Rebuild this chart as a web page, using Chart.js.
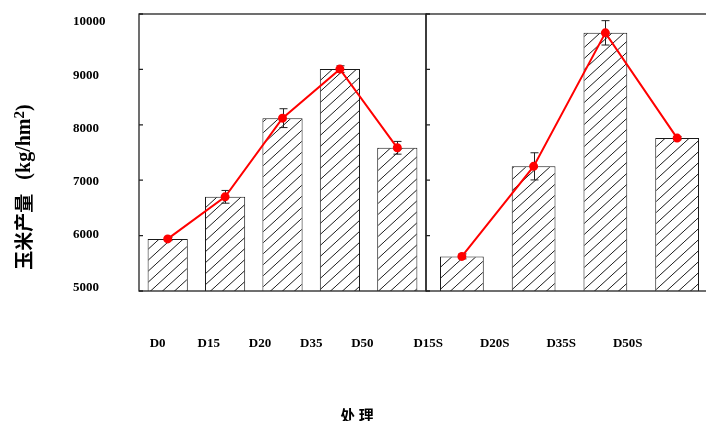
<!DOCTYPE html>
<html>
<head>
<meta charset="utf-8">
<script src="https://cdn.jsdelivr.net/npm/chart.js@4.4.1/dist/chart.umd.min.js"></script>
<style>
    html, body { margin: 0; padding: 0; overflow: hidden; background: #fff; }
    #wrap { width: 714px; height: 421px; }
</style>
</head>
<body>
<div id="wrap"><canvas id="yieldChart" width="714" height="421"></canvas></div>
<script>
'use strict';

// ============================================================================
// DATA
// ============================================================================

/** Treatments without straw (left panel) and with straw (right panel) */
const groupA = ['D0', 'D15', 'D20', 'D35', 'D50'];
const groupB = ['D15S', 'D20S', 'D35S', 'D50S'];

/** Mean maize yield, kg/hm2 */
const yieldA = [5940, 6700, 8120, 9005, 7585];
const yieldB = [5625, 7250, 9660, 7760];

/** Standard error of the mean, kg/hm2 */
const errA = [30, 115, 170, 60, 115];
const errB = [45, 245, 220, 30];

/** Value axis ticks */
const yTicks = [5000, 6000, 7000, 8000, 9000, 10000];

// ============================================================================
// STYLE
// ============================================================================

const SERIF = '"Times New Roman", "Liberation Serif", serif';
const CJK = '"Noto Sans CJK SC", "Noto Sans CJK JP", sans-serif';
const LINE_RED = '#ff0000';
const INK = '#1a1a1a';

/**
 * Builds the diagonal hatch used to fill the bars.
 * @param {CanvasRenderingContext2D} target context the pattern is used on
 * @returns {CanvasPattern}
 */
function makeHatch(target) {
    const w = 12, h = 11;
    const tile = document.createElement('canvas');
    tile.width = w;
    tile.height = h;
    const c = tile.getContext('2d');
    c.fillStyle = '#fff';
    c.fillRect(0, 0, w, h);
    c.strokeStyle = INK;
    c.lineWidth = 1;
    c.beginPath();
    [-w, 0, w].forEach(dx => {
        c.moveTo(dx, h);
        c.lineTo(dx + w, 0);
    });
    c.stroke();
    return target.createPattern(tile, 'repeat');
}

/** Drops the label overhang padding so the layout keeps the sizes we set */
function noOverhang(scale) {
    scale.paddingLeft = 0;
    scale.paddingRight = 0;
    scale.paddingTop = 0;
    scale.paddingBottom = 0;
}

// ============================================================================
// PLUGINS
// ============================================================================

/** Box around each panel, with short inward ticks on its left edge */
const panelFrame = {
    id: 'panelFrame',
    afterDatasetsDraw(chart) {
        const { ctx, scales: { y, xA, xB } } = chart;
        ctx.save();
        ctx.strokeStyle = '#222';
        ctx.lineWidth = 1.3;
        [xA, xB].forEach(x => {
            ctx.strokeRect(x.left, y.top, x.right - x.left, y.bottom - y.top);
            ctx.beginPath();
            yTicks.forEach(v => {
                const py = y.getPixelForValue(v);
                ctx.moveTo(x.left, py);
                ctx.lineTo(x.left + 4, py);
            });
            ctx.stroke();
        });
        ctx.restore();
    }
};

/** Capped error bars drawn right after the bar dataset they belong to */
const errorBars = {
    id: 'errorBars',
    afterDatasetDraw(chart, args) {
        const ds = chart.data.datasets[args.index];
        if (!ds.errors) return;
        const y = chart.scales[ds.yAxisID];
        const ctx = chart.ctx;
        ctx.save();
        ctx.strokeStyle = '#222';
        ctx.lineWidth = 1;
        ctx.beginPath();
        args.meta.data.forEach((bar, i) => {
            const hi = y.getPixelForValue(ds.data[i] + ds.errors[i]);
            const lo = y.getPixelForValue(ds.data[i] - ds.errors[i]);
            const x = Math.round(bar.x) + 0.5;
            ctx.moveTo(x, hi);
            ctx.lineTo(x, lo);
            ctx.moveTo(x - 4, hi);
            ctx.lineTo(x + 4, hi);
            ctx.moveTo(x - 4, lo);
            ctx.lineTo(x + 4, lo);
        });
        ctx.stroke();
        ctx.restore();
    }
};

/** Axis titles: rotated y title with superscript unit, and the x title */
const axisTitles = {
    id: 'axisTitles',
    afterDraw(chart) {
        const ctx = chart.ctx;
        ctx.save();
        ctx.fillStyle = '#000';

        // y title, read bottom to top
        const parts = [
            { text: '玉米产量', font: `bold 19px ${CJK}`, base: 'middle', dy: 0 },
            { text: ' ', font: `bold 20px ${SERIF}`, base: 'alphabetic', dy: 6, gap: 9 },
            { text: '(kg/hm', font: `bold 20px ${SERIF}`, base: 'alphabetic', dy: 6 },
            { text: '2', font: `bold 15px ${SERIF}`, base: 'alphabetic', dy: 0 },
            { text: ')', font: `bold 20px ${SERIF}`, base: 'alphabetic', dy: 6 }
        ];
        let total = 0;
        parts.forEach(p => {
            ctx.font = p.font;
            p.w = ctx.measureText(p.text).width + (p.gap || 0);
            total += p.w;
        });
        ctx.translate(24, 187);
        ctx.rotate(-Math.PI / 2);
        ctx.textAlign = 'left';
        let cx = -total / 2;
        parts.forEach(p => {
            ctx.font = p.font;
            ctx.textBaseline = p.base;
            ctx.fillText(p.text, cx, p.dy);
            cx += p.w;
        });
        ctx.setTransform(1, 0, 0, 1, 0, 0);

        // x title
        ctx.font = `bold 15px ${CJK}`;
        ctx.textAlign = 'center';
        ctx.textBaseline = 'middle';
        ctx.fillText('处 理', chart.width / 2, 415);
        ctx.restore();
    }
};

// ============================================================================
// CHART
// ============================================================================

const canvas = document.getElementById('yieldChart');
const context = canvas.getContext('2d');
const hatch = makeHatch(context);

const tickFont = { family: SERIF, size: 13, weight: 'bold' };
const fixedTicks = scale => { scale.ticks = yTicks.map(v => ({ value: v })); };

/** Shared style for the treatment name rows under each panel */
const nameAxis = (labels, weight, offset) => ({
    type: 'category',
    labels,
    position: 'bottom',
    stack: 'names',
    stackWeight: weight,
    weight: 1,
    offset: true,
    grid: { display: false, drawTicks: false },
    border: { display: false },
    ticks: {
        padding: 45,
        labelOffset: offset,
        autoSkip: false,
        maxRotation: 0,
        color: '#000',
        font: tickFont
    },
    afterFit: s => { s.height = 130; noOverhang(s); }
});

/** Panel axes that carry the bars; everything they draw comes from panelFrame */
const panelAxis = labels => ({
    type: 'category',
    labels,
    position: 'bottom',
    stack: 'panels',
    stackWeight: 1,
    weight: 0,
    offset: true,
    grid: { display: false, drawTicks: false },
    border: { display: false },
    ticks: { display: false },
    afterFit: s => { s.height = 0; noOverhang(s); }
});

const lineStyle = {
    type: 'line', yAxisID: 'y', order: 0,
    borderColor: LINE_RED, borderWidth: 2,
    pointRadius: 3.5, pointBackgroundColor: LINE_RED, pointBorderColor: LINE_RED
};

const barStyle = {
    type: 'bar', yAxisID: 'y', order: 1, grouped: false,
    backgroundColor: hatch, borderColor: INK, borderWidth: 1,
    categoryPercentage: 1
};

new Chart(context, {
    type: 'bar',
    data: {
        datasets: [
            { ...lineStyle, data: yieldA, xAxisID: 'xA' },
            { ...lineStyle, data: yieldB, xAxisID: 'xB' },
            { ...barStyle, data: yieldA, errors: errA, xAxisID: 'xA', barPercentage: 0.70 },
            { ...barStyle, data: yieldB, errors: errB, xAxisID: 'xB', barPercentage: 0.61 }
        ]
    },
    options: {
        responsive: false,
        animation: false,
        devicePixelRatio: 1,
        layout: {
            autoPadding: false,
            padding: { left: 73, right: 1, top: 14, bottom: 0 }
        },
        plugins: {
            legend: { display: false },
            tooltip: { enabled: false },
            title: { display: false }
        },
        scales: {
            y: {
                type: 'linear',
                display: false,
                min: 5000,
                max: 10000,
                afterBuildTicks: fixedTicks
            },
            yText: {
                type: 'linear',
                position: 'left',
                min: 4937,
                max: 10151,
                grid: { display: false, drawTicks: false },
                border: { display: false },
                afterBuildTicks: fixedTicks,
                ticks: {
                    crossAlign: 'far',
                    padding: 33,
                    color: '#000',
                    font: tickFont,
                    callback: v => String(v)
                },
                afterFit: s => { s.width = 66; noOverhang(s); }
            },
            xA: panelAxis(groupA),
            xB: panelAxis(groupB),
            xTextA: nameAxis(groupA, 256, -7),
            xTextB: nameAxis(groupB, 266, 0),
            xTextEnd: {
                type: 'category',
                labels: [''],
                position: 'bottom',
                stack: 'names',
                stackWeight: 52,
                weight: 1,
                grid: { display: false, drawTicks: false },
                border: { display: false },
                ticks: { display: false },
                afterFit: s => { s.height = 130; noOverhang(s); }
            }
        }
    },
    plugins: [panelFrame, errorBars, axisTitles]
});
</script>
</body>
</html>
